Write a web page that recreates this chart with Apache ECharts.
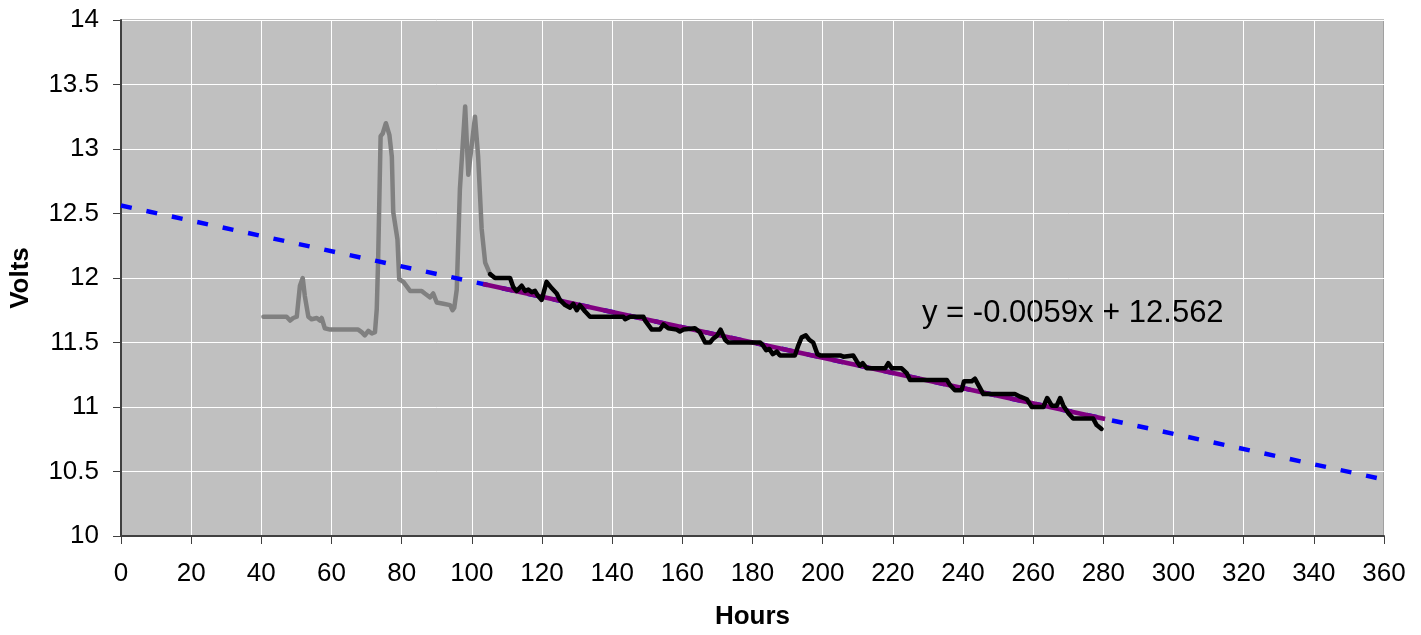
<!DOCTYPE html>
<html>
<head>
<meta charset="utf-8">
<script src="https://cdn.jsdelivr.net/npm/echarts@6/dist/echarts.min.js"></script>
<style>
html,body{margin:0;padding:0;background:#fff;}
#chart{width:1421px;height:635px;}
</style>
</head>
<body>
<div id="chart"></div>
<script>
// charging period (gray)
var grayHours = [40.6, 47.2, 48.2, 49.1, 50.1, 51.0, 51.8, 52.4, 53.4, 54.3, 55.8, 56.7, 57.2, 58.1, 59.6, 63.4, 63.9, 64.3, 67.6, 68.6, 69.5, 70.5, 71.5, 72.4, 72.9, 73.3,
    74.0, 74.6, 75.5, 76.5, 77.2, 77.6, 78.8, 79.3, 80.5, 82.4, 85.7, 86.6, 88.1, 89.0, 90.0, 91.9, 93.8, 94.5, 95.0, 95.7, 96.6, 98.1, 99.0, 100.9, 101.8, 102.8, 103.8, 105.2];
var grayVolts = [11.70, 11.70, 11.67, 11.69, 11.70, 11.94, 12.00, 11.86, 11.70, 11.68, 11.69, 11.67, 11.69, 11.61, 11.60, 11.60, 11.59, 11.60, 11.60, 11.58, 11.555, 11.59, 11.57, 11.58, 11.76, 12.15,
    13.10, 13.12, 13.20, 13.11, 12.94, 12.51, 12.30, 11.99, 11.97, 11.90, 11.90, 11.88, 11.85, 11.88, 11.81, 11.80, 11.79, 11.75, 11.77, 11.91, 12.69, 13.33, 12.80, 13.25, 12.94, 12.38, 12.12, 12.03];

// discharge period (black)
var blackHours = [105.2, 106.6, 110.9, 111.8, 112.8, 114.2, 115.2, 116.1, 117.1, 118.0, 118.9, 119.9, 121.3, 122.8, 124.2, 125.1, 126.6, 128.0, 128.9, 129.9, 130.8, 132.3, 133.7,
    143.2, 143.7, 145.1, 148.9, 149.4, 151.3, 153.6, 154.6, 156.0, 158.4, 159.3, 160.3, 163.6, 165.0, 166.5, 167.9, 168.8, 169.8, 170.9, 172.2, 173.1,
    182.2, 182.9, 183.9, 184.8, 185.8, 186.9, 187.8, 192.1, 193.1, 194.0, 195.2, 196.2, 197.3, 198.5, 199.3, 205.0, 205.9, 208.7, 209.7, 210.6, 211.4, 212.6,
    217.8, 218.7, 219.7, 222.5, 224.0, 224.9, 235.4, 236.3, 237.7, 239.6, 240.3, 242.5, 243.4, 244.4, 245.8, 254.8, 256.3, 258.2, 259.6,
    262.9, 264.0, 265.3, 266.7, 267.7, 268.6, 270.1, 271.4, 277.1, 278.1, 279.5];
var blackVolts = [12.03, 12.00, 12.00, 11.93, 11.90, 11.94, 11.90, 11.91, 11.89, 11.90, 11.86, 11.83, 11.97, 11.92, 11.88, 11.83, 11.79, 11.77, 11.80, 11.75, 11.79, 11.74, 11.70,
    11.70, 11.68, 11.70, 11.70, 11.67, 11.60, 11.60, 11.64, 11.61, 11.60, 11.585, 11.60, 11.61, 11.58, 11.50, 11.50, 11.53, 11.55, 11.60, 11.52, 11.50,
    11.50, 11.48, 11.44, 11.45, 11.41, 11.43, 11.40, 11.40, 11.48, 11.54, 11.555, 11.52, 11.50, 11.41, 11.40, 11.40, 11.39, 11.40, 11.355, 11.32, 11.34, 11.30,
    11.30, 11.34, 11.30, 11.30, 11.26, 11.21, 11.21, 11.17, 11.13, 11.13, 11.20, 11.20, 11.22, 11.17, 11.10, 11.10, 11.08, 11.06, 11.00,
    11.00, 11.07, 11.01, 11.01, 11.07, 11.01, 10.95, 10.91, 10.91, 10.86, 10.83];

// linear trendline, extended (blue dashed) and fitted range (purple)
var trendHours = [0, 360];
var trendVolts = [12.562, 10.438];
var fitHours = [103.2, 280.5];
var fitVolts = [11.953, 10.907];

var equationText = 'y = -0.0059x + 12.562';
var fontName = '"Liberation Sans", Arial, sans-serif';

function pairs(xs, ys){
    var out = [];
    for(var i = 0; i < xs.length; i++){
        out.push([xs[i], ys[i]]);
    }
    return out;
}

var myChart = echarts.init(document.getElementById('chart'));
var option = {
    animation: false,
    backgroundColor: '#ffffff',
    textStyle: { fontFamily: fontName },
    grid: {
        left: 121, right: 37, top: 20, bottom: 97,
        show: true,
        backgroundColor: '#c0c0c0',
        borderColor: '#808080',
        borderWidth: 1
    },
    xAxis: {
        type: 'value',
        min: 0, max: 360, interval: 20,
        name: 'Hours',
        nameLocation: 'middle',
        nameGap: 68,
        nameTextStyle: { fontSize: 26, fontWeight: 'bold', color: '#000', fontFamily: fontName },
        axisLine: { show: true, lineStyle: { color: '#404040', width: 2 } },
        axisTick: { show: true, inside: false, length: 8, lineStyle: { color: '#404040' } },
        axisLabel: { fontSize: 26, color: '#000', margin: 25, fontFamily: fontName },
        splitLine: { show: true, lineStyle: { color: '#ffffff', width: 1 } }
    },
    yAxis: {
        type: 'value',
        min: 10, max: 14, interval: 0.5,
        name: 'Volts',
        nameLocation: 'middle',
        nameGap: 87,
        nameTextStyle: { fontSize: 26, fontWeight: 'bold', color: '#000', fontFamily: fontName },
        axisLine: { show: true, lineStyle: { color: '#404040', width: 2 } },
        axisTick: { show: true, inside: false, length: 8, lineStyle: { color: '#404040' } },
        axisLabel: {
            fontSize: 26, color: '#000', margin: 22, fontFamily: fontName,
            verticalAlignMinLabel: 'middle', verticalAlignMaxLabel: 'middle'
        },
        splitLine: { show: true, lineStyle: { color: '#ffffff', width: 1 } }
    },
    graphic: [{
        type: 'text',
        left: 922,
        top: 298,
        style: { text: equationText, fontSize: 31, fill: '#000', fontFamily: fontName }
    }],
    series: [
        {
            name: 'charge', type: 'line', data: pairs(grayHours, grayVolts),
            showSymbol: false, z: 2,
            lineStyle: { color: '#808080', width: 4.5, join: 'round', cap: 'round' }
        },
        {
            name: 'trend', type: 'line', data: pairs(trendHours, trendVolts),
            showSymbol: false, z: 3,
            lineStyle: { color: '#0000ff', width: 4.5, type: [11, 15] }
        },
        {
            name: 'fit', type: 'line', data: pairs(fitHours, fitVolts),
            showSymbol: false, z: 4,
            lineStyle: { color: '#800080', width: 4.5 }
        },
        {
            name: 'discharge', type: 'line', data: pairs(blackHours, blackVolts),
            showSymbol: false, z: 5,
            lineStyle: { color: '#000000', width: 4.5, join: 'round', cap: 'round' }
        }
    ]
};
myChart.setOption(option, true);
</script>
</body>
</html>
